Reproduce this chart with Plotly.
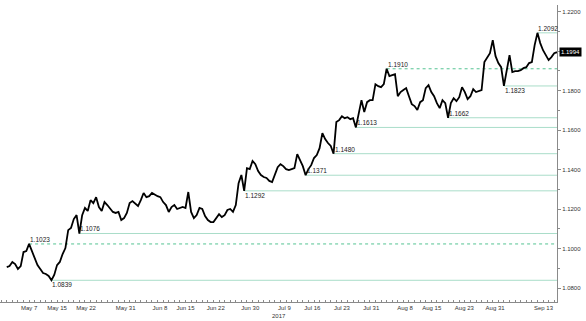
import plotly.graph_objects as go

# Trading days (weekdays) and two readings per day (00:00 and 12:00)
days = [
    "2017-05-02", "2017-05-03", "2017-05-04", "2017-05-05", "2017-05-08", "2017-05-09", "2017-05-10",
    "2017-05-11", "2017-05-12", "2017-05-15", "2017-05-16", "2017-05-17", "2017-05-18", "2017-05-19",
    "2017-05-22", "2017-05-23", "2017-05-24", "2017-05-25", "2017-05-26", "2017-05-29", "2017-05-30",
    "2017-05-31",
    "2017-06-01", "2017-06-02", "2017-06-05", "2017-06-06", "2017-06-07", "2017-06-08", "2017-06-09",
    "2017-06-12", "2017-06-13", "2017-06-14", "2017-06-15", "2017-06-16", "2017-06-19", "2017-06-20",
    "2017-06-21", "2017-06-22", "2017-06-23", "2017-06-26", "2017-06-27", "2017-06-28", "2017-06-29",
    "2017-06-30",
    "2017-07-03", "2017-07-04", "2017-07-05", "2017-07-06", "2017-07-07", "2017-07-10", "2017-07-11",
    "2017-07-12", "2017-07-13", "2017-07-14", "2017-07-17", "2017-07-18", "2017-07-19", "2017-07-20",
    "2017-07-21", "2017-07-24", "2017-07-25", "2017-07-26", "2017-07-27", "2017-07-28", "2017-07-31",
    "2017-08-01", "2017-08-02", "2017-08-03", "2017-08-04", "2017-08-07", "2017-08-08", "2017-08-09",
    "2017-08-10", "2017-08-11", "2017-08-14", "2017-08-15", "2017-08-16", "2017-08-17", "2017-08-18",
    "2017-08-21", "2017-08-22", "2017-08-23", "2017-08-24", "2017-08-25", "2017-08-28", "2017-08-29",
    "2017-08-30", "2017-08-31",
    "2017-09-01", "2017-09-04", "2017-09-05", "2017-09-06", "2017-09-07", "2017-09-08", "2017-09-11",
    "2017-09-12", "2017-09-13", "2017-09-14", "2017-09-15",
]

price_am = [
    1.0906, 1.0932, 1.0896, 1.0982, 1.1023, 1.0942, 1.0896, 1.0871, 1.0839, 1.0916,
    1.0972, 1.1093, 1.1149, 1.1076, 1.1205, 1.1245, 1.1260, 1.1190, 1.1220, 1.1185,
    1.1185, 1.1154, 1.1230, 1.1225, 1.1245, 1.1260, 1.1281, 1.1265, 1.1235, 1.1185,
    1.1220, 1.1205, 1.1205, 1.1185, 1.1169, 1.1200, 1.1144, 1.1134, 1.1174, 1.1169,
    1.1200, 1.1220, 1.1372, 1.1407, 1.1443, 1.1392, 1.1362, 1.1342, 1.1372, 1.1427,
    1.1402, 1.1402, 1.1478, 1.1417, 1.1402, 1.1458, 1.1508, 1.1554, 1.1519, 1.1640,
    1.1670, 1.1665, 1.1660, 1.1691, 1.1691, 1.1751, 1.1832, 1.1817, 1.1910, 1.1878,
    1.1771, 1.1802, 1.1771, 1.1721, 1.1741, 1.1812, 1.1792, 1.1736, 1.1751, 1.1662,
    1.1761, 1.1766, 1.1792, 1.1771, 1.1792, 1.1802, 1.1969, 1.2055, 1.1939, 1.1823,
    1.1979, 1.1898, 1.1903, 1.1918, 1.1944, 1.2092, 1.2004, 1.1954, 1.1989,
]

price_pm = [
    1.0911, 1.0921, 1.0911, 1.0987, 1.0987, 1.0916, 1.0876, 1.0861, 1.0866, 1.0932,
    1.1002, 1.1104, 1.1169, 1.1169, 1.1190, 1.1230, 1.1210, 1.1235, 1.1205, 1.1180,
    1.1144, 1.1180, 1.1240, 1.1215, 1.1281, 1.1265, 1.1271, 1.1260, 1.1220, 1.1210,
    1.1200, 1.1210, 1.1286, 1.1154, 1.1205, 1.1164, 1.1134, 1.1154, 1.1159, 1.1195,
    1.1185, 1.1331, 1.1292, 1.1402, 1.1427, 1.1372, 1.1357, 1.1336, 1.1412, 1.1417,
    1.1397, 1.1407, 1.1448, 1.1371, 1.1422, 1.1473, 1.1584, 1.1534, 1.1480, 1.1650,
    1.1660, 1.1655, 1.1613, 1.1751, 1.1741, 1.1751, 1.1822, 1.1832, 1.1873, 1.1883,
    1.1792, 1.1812, 1.1731, 1.1701, 1.1751, 1.1827, 1.1771, 1.1711, 1.1736, 1.1736,
    1.1746, 1.1817, 1.1756, 1.1807, 1.1797, 1.1944, 1.1989, 1.1974, 1.1918, 1.1893,
    1.1893, 1.1898, 1.1913, 1.1939, 1.2030, 1.2040, 1.1979, 1.1969, 1.1994,
]

# Marked support / resistance levels
level_values = [1.1023, 1.0839, 1.1076, 1.1292, 1.1371, 1.1480, 1.1613, 1.1910, 1.1662, 1.1823, 1.2092]
level_dates = ["2017-05-08 00:00", "2017-05-12 00:00", "2017-05-19 00:00", "2017-06-29 12:00",
               "2017-07-14 12:00", "2017-07-21 12:00", "2017-07-27 12:00", "2017-08-04 00:00",
               "2017-08-21 00:00", "2017-09-04 00:00", "2017-09-12 00:00"]
level_dashed = [True, False, False, False, False, False, False, True, False, False, False]
level_label_above = [True, False, True, False, True, True, True, True, True, False, True]

last_price = 1.1994

tick_labels = ["May 7", "May 15", "May 22", "May 31", "Jun 8", "Jun 15", "Jun 22", "Jun 30",
               "Jul 9", "Jul 16", "Jul 23", "Jul 31", "Aug 8", "Aug 15", "Aug 23", "Aug 31", "Sep 13"]
tick_dates = ["2017-05-08 00:00", "2017-05-15 00:00", "2017-05-22 05:00", "2017-05-31 07:00",
              "2017-06-08 10:00", "2017-06-15 00:00", "2017-06-22 10:00", "2017-06-30 14:00",
              "2017-07-10 17:00", "2017-07-17 17:00", "2017-07-25 00:00", "2017-08-01 06:00",
              "2017-08-09 07:00", "2017-08-16 02:00", "2017-08-23 22:00", "2017-08-31 10:00",
              "2017-09-13 02:00"]

x_start = "2017-04-28 19:00"
x_end = "2017-09-15 12:00"

# build the series table
xs, ys = [], []
for d, a, p in zip(days, price_am, price_pm):
    xs.append(d + " 00:00"); ys.append(a)
    xs.append(d + " 12:00"); ys.append(p)

FONT = "Liberation Sans"
fig = go.Figure()

for v, d, dashed, above in zip(level_values, level_dates, level_dashed, level_label_above):
    fig.add_shape(type="line", xref="x", yref="y", x0=d, x1=x_end, y0=v, y1=v,
                  line=dict(color="#55c392" if dashed else "#a9ddc9", width=1,
                            dash="3px,3px" if dashed else "solid"), layer="below")
    fig.add_annotation(x=d, y=v, text=f"{v:.4f}", showarrow=False, xanchor="left",
                       yanchor="bottom" if above else "top", xshift=-1,
                       yshift=-1 if above else 1,
                       font=dict(family=FONT, size=6.5, color="#222"))

fig.add_trace(go.Scatter(x=xs, y=ys, mode="lines", line=dict(color="#000", width=1.8),
                         hoverinfo="skip", showlegend=False))

fig.add_annotation(xref="paper", x=1, y=last_price, text=f"{last_price:.4f}", showarrow=False,
                   xanchor="left", xshift=2, bgcolor="#000", borderpad=1,
                   font=dict(family=FONT, size=6, color="#fff"))
fig.add_annotation(xref="x", yref="paper", x=tick_dates[8], y=0, yanchor="top", yshift=-9,
                   xshift=-5, text="2017", showarrow=False,
                   font=dict(family=FONT, size=6, color="#333"))

fig.update_layout(
    width=586, height=321, margin=dict(l=0, r=29, t=5, b=19),
    paper_bgcolor="#fff", plot_bgcolor="#fff", showlegend=False,
    xaxis=dict(type="date", range=[x_start, x_end],
               rangebreaks=[dict(bounds=["sat", "mon"])],
               tickvals=tick_dates, ticktext=tick_labels, ticks="", showgrid=False,
               showline=True, linecolor="#8a8a8a", linewidth=1, zeroline=False,
               tickfont=dict(family=FONT, size=6, color="#333"),
               minor=dict(dtick=86400000, ticks="inside", ticklen=2, tickcolor="#8a8a8a", showgrid=False)),
    yaxis=dict(side="right", range=[1.07291, 1.22329], dtick=0.02, tick0=1.08, tickformat=".4f",
               ticks="outside", ticklen=3, tickcolor="#8a8a8a", showgrid=False, zeroline=False,
               showline=True, linecolor="#8a8a8a", linewidth=1,
               tickfont=dict(family=FONT, size=6, color="#333"),
               minor=dict(dtick=0.01, ticks="outside", ticklen=2, tickcolor="#8a8a8a", showgrid=False)),
)

fig.write_html("out.html")
